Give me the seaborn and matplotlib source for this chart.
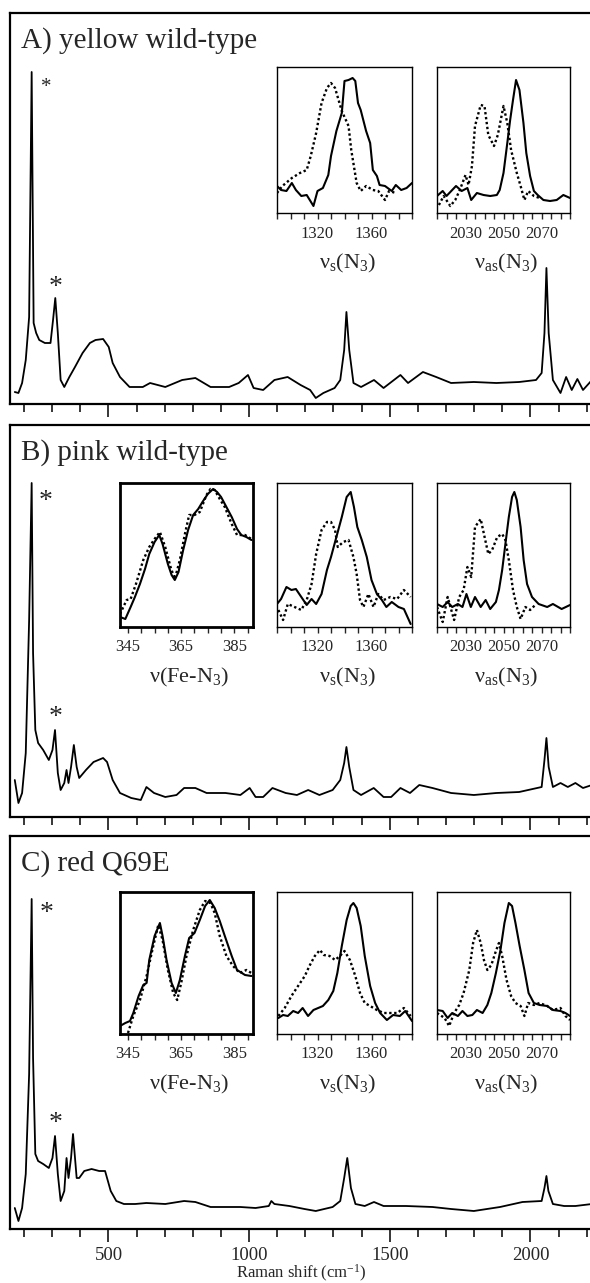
import matplotlib
matplotlib.use("Agg")
import matplotlib.pyplot as plt
from matplotlib.ticker import MultipleLocator, FixedLocator, NullFormatter
import seaborn as sns

# ---- main spectra (Raman shift, intensity in arbitrary units) ----
A_X = [167, 180, 193, 206, 218, 227, 234, 243, 254, 274, 294, 303, 311, 320, 330, 343, 361, 381, 408, 434,
       454, 481, 501, 515, 541, 575, 622, 648, 702, 762, 809, 863, 929, 963, 996, 1016, 1050, 1090, 1137, 1183,
       1217, 1237, 1264, 1304, 1324, 1338, 1346, 1356, 1371, 1398, 1444, 1478, 1538, 1565, 1618, 1665, 1718, 1799,
       1879, 1960, 2020, 2040, 2050, 2057, 2065, 2080, 2107, 2127, 2147, 2167, 2187, 2219]
A_Y = [12, 11, 21, 44, 87, 332, 81, 71, 64, 61, 61, 84, 106, 71, 24, 17, 27, 37, 51, 61,
       64, 65, 57, 41, 27, 17, 17, 21, 17, 24, 26, 17, 17, 21, 29, 16, 14, 24, 27, 19,
       14, 6, 11, 16, 24, 54, 92, 54, 21, 17, 24, 16, 29, 21, 32, 27, 21, 22,
       21, 22, 24, 31, 71, 136, 71, 24, 11, 27, 14, 25, 14, 24]

B_X = [167, 180, 193, 206, 218, 227, 232, 240, 250, 268, 288, 301, 310, 320, 330, 343, 351, 358, 367, 377,
       387, 396, 420, 447, 481, 495, 515, 541, 581, 615, 635, 662, 702, 742, 769, 809, 849, 916, 969, 1002,
       1023, 1050, 1083, 1130, 1170, 1210, 1250, 1297, 1324, 1338, 1346, 1356, 1371, 1398, 1443, 1478, 1505, 1538,
       1572, 1605, 1652, 1718, 1799, 1879, 1960, 2040, 2050, 2057, 2065, 2080, 2107, 2133, 2160, 2187, 2219]
B_Y = [37, 14, 24, 64, 197, 334, 164, 87, 74, 67, 57, 67, 87, 44, 27, 34, 47, 34, 50, 72,
       50, 39, 47, 55, 59, 55, 37, 24, 19, 17, 30, 24, 20, 22, 29, 29, 24, 24, 22, 29,
       20, 20, 29, 24, 22, 27, 22, 27, 37, 54, 70, 50, 27, 22, 29, 20, 20, 29,
       24, 32, 29, 24, 22, 24, 25, 30, 57, 79, 50, 30, 34, 30, 34, 29, 32]

C_X = [167, 180, 193, 206, 218, 227, 232, 240, 250, 268, 288, 301, 310, 320, 330, 343, 351, 358, 367, 374,
       387, 396, 414, 440, 467, 488, 508, 528, 555, 595, 635, 702, 769, 809, 863, 916, 969, 1023, 1070, 1079,
       1090, 1143, 1197, 1237, 1297, 1324, 1338, 1349, 1362, 1378, 1411, 1444, 1478, 1558, 1652, 1718, 1799,
       1892, 1972, 2040, 2050, 2057, 2064, 2080, 2120, 2160, 2219]
C_Y = [21, 8, 21, 55, 155, 330, 171, 75, 68, 65, 61, 71, 93, 55, 28, 38, 71, 51, 71, 95,
       51, 51, 58, 60, 58, 58, 38, 28, 25, 25, 26, 25, 28, 27, 22, 22, 22, 21, 23, 28,
       25, 23, 20, 18, 22, 28, 51, 71, 41, 25, 23, 27, 23, 23, 22, 20, 18,
       22, 27, 28, 41, 53, 38, 25, 23, 23, 25]

PANEL_TITLES = ["A) yellow wild-type", "B) pink wild-type", "C) red Q69E"]
STAR_X = [[280, 311], [275, 311], [280, 311]]
STAR_Y = [[316, 117], [315, 99], [316, 105]]
STAR_SIZE = [[15, 20], [20, 20], [20, 20]]

# ---- insets: solid and dotted traces ----
A_VS_X = [1290, 1293, 1297, 1301, 1304, 1308, 1312, 1317, 1320, 1324, 1328, 1330, 1334, 1338, 1340, 1343, 1346,
          1348, 1350, 1352, 1356, 1359, 1361, 1364, 1366, 1370, 1375, 1378, 1382, 1386, 1390]
A_VS_Y = [27, 23, 22, 30, 23, 17, 18, 7, 22, 25, 38, 57, 82, 100, 132, 133, 135,
          132, 110, 103, 82, 70, 43, 37, 28, 27, 22, 28, 23, 25, 30]
A_VS_DX = [1290, 1294, 1301, 1307, 1312, 1315, 1319, 1323, 1327, 1330, 1333, 1338, 1343, 1345, 1349, 1352, 1356,
           1361, 1365, 1370, 1373, 1378]
A_VS_DY = [20, 27, 35, 40, 43, 57, 80, 110, 125, 130, 125, 102, 87, 63, 30, 22, 27, 23, 22, 13, 22, 20]

A_VAS_X = [2015, 2018, 2020, 2023, 2025, 2028, 2031, 2033, 2036, 2039.5, 2043, 2046.5, 2048, 2050, 2052, 2053.5,
           2055, 2056.6, 2058.4, 2060.5, 2062, 2064, 2066, 2068, 2071, 2074.5, 2078, 2081.5, 2085]
A_VAS_Y = [17, 22, 17, 23, 27, 22, 25, 13, 20, 18, 17, 18, 23, 40, 70, 93,
           113, 133, 123, 90, 60, 37, 22, 18, 13, 12, 13, 18, 15]
A_VAS_DX = [2016, 2018.5, 2022, 2024.6, 2027, 2030, 2031.6, 2033.4, 2035, 2038, 2040, 2042, 2045, 2047, 2050,
            2052, 2054, 2057, 2059, 2061, 2063, 2066, 2069]
A_VAS_DY = [8, 17, 7, 13, 23, 38, 28, 47, 87, 108, 107, 78, 67, 78, 107, 90, 63, 40, 27, 13, 22, 17, 15]

B_FE_X = [342, 344, 346, 347.6, 349.5, 351.4, 353, 355, 356.75, 358, 360, 361.4, 362.6, 364, 365.75, 367.6,
          369.5, 371.4, 373, 375, 377, 378.5, 380, 382, 384, 386, 387.6, 389.5, 391.4]
B_FE_Y = [10, 8, 20, 30, 43, 58, 73, 85, 92, 83, 63, 52, 47, 55, 77, 97,
          112, 118, 125, 133, 138, 135, 130, 120, 110, 98, 92, 90, 87]
B_FE_DX = [342, 344.5, 346, 348, 350.75, 353, 355, 357, 359, 361, 362.6, 364.5, 366.4, 368, 370, 372, 374.5,
           376, 377.6, 379.5, 381.4, 384, 386, 389, 391.4]
B_FE_DY = [13, 27, 28, 43, 67, 80, 88, 95, 80, 60, 48, 67, 93, 112, 112, 115, 132,
           138, 137, 128, 120, 103, 92, 92, 88]

B_VS_X = [1290, 1293, 1297, 1300.7, 1304, 1308, 1312, 1315.6, 1319, 1323, 1327, 1330, 1334, 1338, 1341.6,
          1344.6, 1347, 1349.5, 1352.8, 1356.5, 1360, 1364, 1367.7, 1371, 1375, 1380, 1384, 1389]
B_VS_Y = [23, 28, 40, 37, 38, 30, 22, 28, 23, 33, 57, 70, 90, 110, 130,
          135, 120, 100, 87, 70, 47, 33, 27, 20, 25, 20, 18, 3]
B_VS_DX = [1291, 1294.5, 1298, 1303, 1308, 1312, 1315.6, 1319, 1323, 1327, 1330, 1333, 1335, 1339, 1343,
           1346.6, 1349, 1351.5, 1354, 1357.7, 1361.5, 1365, 1369, 1374, 1379, 1384, 1389]
B_VS_DY = [17, 7, 23, 20, 17, 27, 43, 73, 97, 105, 105, 97, 80, 85, 87,
           70, 53, 27, 20, 33, 20, 33, 27, 30, 28, 37, 30]

B_VAS_X = [2015, 2018, 2020.6, 2023, 2026, 2028.4, 2030.5, 2032.8, 2035, 2038, 2040.6, 2043, 2046, 2047.6,
           2049.3, 2051, 2052.8, 2054.5, 2055.7, 2057, 2059, 2060.6, 2062.4, 2065, 2068.5, 2073, 2076, 2080.6, 2085]
B_VAS_Y = [23, 20, 25, 20, 23, 20, 33, 20, 30, 20, 27, 18, 25, 37,
           57, 83, 110, 130, 135, 127, 100, 67, 43, 30, 23, 20, 23, 18, 22]
B_VAS_DX = [2015, 2018, 2020.6, 2024, 2026.7, 2029, 2031, 2033, 2035, 2038, 2039.7, 2042, 2044, 2046.7,
            2049.3, 2051, 2052.8, 2055, 2057, 2059, 2061.5, 2064, 2066.7]
B_VAS_DY = [20, 5, 30, 7, 30, 37, 60, 50, 100, 108, 93, 73, 77, 90,
            93, 87, 67, 37, 20, 8, 20, 17, 22]

C_FE_X = [342, 344, 345.75, 347, 349, 350.75, 352, 353, 355, 357, 358, 359.5, 361.4, 363, 364.5, 366.4,
          368, 370, 372, 374, 375.75, 377.6, 379.5, 381.4, 384, 386, 389, 391.4]
C_FE_Y = [8, 11, 13, 21, 38, 49, 51, 74, 98, 111, 98, 74, 51, 41, 54, 78,
          96, 101, 114, 128, 134, 126, 113, 98, 78, 64, 59, 58]
C_FE_DX = [345, 347, 349.5, 352, 354.5, 356.4, 358, 360, 362, 363.5, 365, 367, 369.5, 372, 374, 376, 377.6,
           379.5, 382, 384.5, 387, 389.5, 391.4]
C_FE_DY = [1, 18, 34, 58, 88, 109, 94, 64, 41, 34, 51, 78, 104, 124, 133, 131, 121,
           98, 78, 68, 61, 64, 61]

C_VS_X = [1291, 1294.5, 1298, 1302, 1305.6, 1309, 1313, 1317, 1320.5, 1324, 1328, 1331.7, 1334.7, 1338,
          1341.6, 1344.6, 1346.6, 1349, 1352, 1355, 1359, 1362.7, 1366.4, 1371.4, 1376, 1381, 1385, 1390]
C_VS_Y = [16, 19, 18, 23, 21, 26, 18, 24, 26, 28, 34, 43, 61, 88,
          114, 128, 131, 126, 108, 78, 48, 31, 21, 14, 19, 18, 23, 13]
C_VS_DX = [1291, 1295.7, 1300.7, 1305.6, 1310.6, 1314, 1318, 1321.8, 1324.7, 1329, 1333, 1336.6, 1340,
           1344, 1348, 1351.5, 1355, 1359, 1364, 1369, 1374, 1379, 1384, 1389]
C_VS_DY = [18, 26, 38, 48, 58, 68, 78, 84, 79, 78, 74, 78, 83,
           74, 58, 41, 31, 28, 24, 21, 21, 21, 26, 18]

C_VAS_X = [2015, 2018, 2020.6, 2023, 2026, 2028.4, 2031, 2033.6, 2036, 2039, 2041.5, 2043.6, 2046, 2048.4,
           2050.5, 2052.8, 2054.5, 2056.3, 2058.5, 2061, 2063.2, 2066, 2069, 2073, 2076, 2080, 2082.6, 2085]
C_VAS_Y = [24, 23, 16, 21, 18, 23, 18, 19, 24, 21, 29, 41, 61, 84,
           111, 131, 128, 111, 88, 64, 41, 31, 29, 28, 24, 23, 21, 18]
C_VAS_DX = [2015, 2019, 2021.4, 2024, 2026.7, 2029, 2032, 2034, 2036, 2038, 2039.7, 2041.5, 2043.6, 2046,
            2047.6, 2049.3, 2051.6, 2054, 2056.3, 2059, 2061, 2063, 2066, 2069, 2073, 2076, 2080, 2082.6, 2085]
C_VAS_DY = [21, 16, 8, 21, 29, 41, 64, 91, 104, 91, 74, 64, 69, 83,
            91, 78, 54, 38, 31, 28, 18, 31, 29, 31, 28, 24, 26, 18, 14]

FE_LABEL = "ν(Fe-N$_3$)"
VS_LABEL = "ν$_\\mathrm{s}$(N$_3$)"
VAS_LABEL = "ν$_\\mathrm{as}$(N$_3$)"
FE_TICKS = [345, 365, 385]
VS_TICKS = [1320, 1360]
VAS_TICKS = [2030, 2050, 2070]

sns.set_style("ticks")
plt.rcParams["font.family"] = ["Liberation Serif", "DejaVu Serif"]
plt.rcParams["mathtext.fontset"] = "custom"
plt.rcParams["mathtext.rm"] = "Liberation Serif"
plt.rcParams["mathtext.it"] = "Liberation Serif:italic"
plt.rcParams["axes.edgecolor"] = "black"

W, H = 590, 1283
fig = plt.figure(figsize=(W / 100, H / 100), dpi=100)


def rect(l, t, r, b):
    return [l / W, 1 - b / H, (r - l) / W, (b - t) / H]


panels = [
    (A_X, A_Y, 13, 404),
    (B_X, B_Y, 425, 817),
    (C_X, C_Y, 836, 1229),
]

# inset specs: (kind, solid x/y, dotted x/y)
insets = [
    [("vs", A_VS_X, A_VS_Y, A_VS_DX, A_VS_DY), ("vas", A_VAS_X, A_VAS_Y, A_VAS_DX, A_VAS_DY)],
    [("fe", B_FE_X, B_FE_Y, B_FE_DX, B_FE_DY), ("vs", B_VS_X, B_VS_Y, B_VS_DX, B_VS_DY),
     ("vas", B_VAS_X, B_VAS_Y, B_VAS_DX, B_VAS_DY)],
    [("fe", C_FE_X, C_FE_Y, C_FE_DX, C_FE_DY), ("vs", C_VS_X, C_VS_Y, C_VS_DX, C_VS_DY),
     ("vas", C_VAS_X, C_VAS_Y, C_VAS_DX, C_VAS_DY)],
]
inset_tops = [(67, 213), (483, 627), (892, 1034)]
kind_info = {
    "fe": (120, 253, (342, 392), FE_TICKS, 5, FE_LABEL, 2.0),
    "vs": (277, 412, (1290, 1390), VS_TICKS, 10, VS_LABEL, 1.0),
    "vas": (437, 570, (2015, 2085), VAS_TICKS, 5, VAS_LABEL, 1.0),
}

for i, (xs, ys, top, bot) in enumerate(panels):
    ax = fig.add_axes(rect(10, top, 592, bot))
    sns.lineplot(x=xs, y=ys, ax=ax, color="black", lw=1.3, sort=False)
    ax.set_xlim(150, 2219)
    ax.set_ylim(0, bot - top)
    ax.set_yticks([])
    ax.xaxis.set_major_locator(MultipleLocator(500))
    ax.xaxis.set_minor_locator(MultipleLocator(100))
    ax.tick_params(axis="x", which="major", direction="out", length=9, width=1.3)
    ax.tick_params(axis="x", which="minor", direction="out", length=6, width=1.3)
    for s in ax.spines.values():
        s.set_linewidth(1.6)
    ax.spines["right"].set_visible(False)
    if i < 2:
        ax.xaxis.set_major_formatter(NullFormatter())
    else:
        ax.tick_params(axis="x", labelsize=13.5, pad=4)
        ax.set_xlabel("Raman shift (cm$^{-1}$)", fontsize=12, labelpad=-1)

    # panel title, offset in pixels from the top-left corner of the frame
    ax.text(11 / 582, 1 - 28 / (bot - top), PANEL_TITLES[i], fontsize=21,
            va="center", ha="left", transform=ax.transAxes)
    for sx, sy, fs in zip(STAR_X[i], STAR_Y[i], STAR_SIZE[i]):
        ax.text(sx, sy, "*", fontsize=fs, ha="center", va="center")

    it, ib = inset_tops[i]
    for kind, sx, sy, dx, dy in insets[i]:
        l, r, xlim, ticks, minor, label, lw = kind_info[kind]
        iax = fig.add_axes(rect(l, it, r, ib))
        sns.lineplot(x=dx, y=dy, ax=iax, color="black", lw=1.7, linestyle=(0, (1, 1.1)), sort=False)
        sns.lineplot(x=sx, y=sy, ax=iax, color="black", lw=1.5, sort=False)
        iax.set_xlim(*xlim)
        iax.set_ylim(0, ib - it)
        iax.set_yticks([])
        iax.xaxis.set_major_locator(FixedLocator(ticks))
        iax.xaxis.set_minor_locator(MultipleLocator(minor))
        iax.tick_params(axis="x", which="both", direction="out", length=4, width=1.0,
                        labelsize=12, pad=5)
        for s in iax.spines.values():
            s.set_linewidth(lw)
        fig.text(((l + r) / 2 + 3) / W, 1 - (ib + 50) / H, label, fontsize=16,
                 ha="center", va="center")

fig.savefig("out.png", dpi=100)
